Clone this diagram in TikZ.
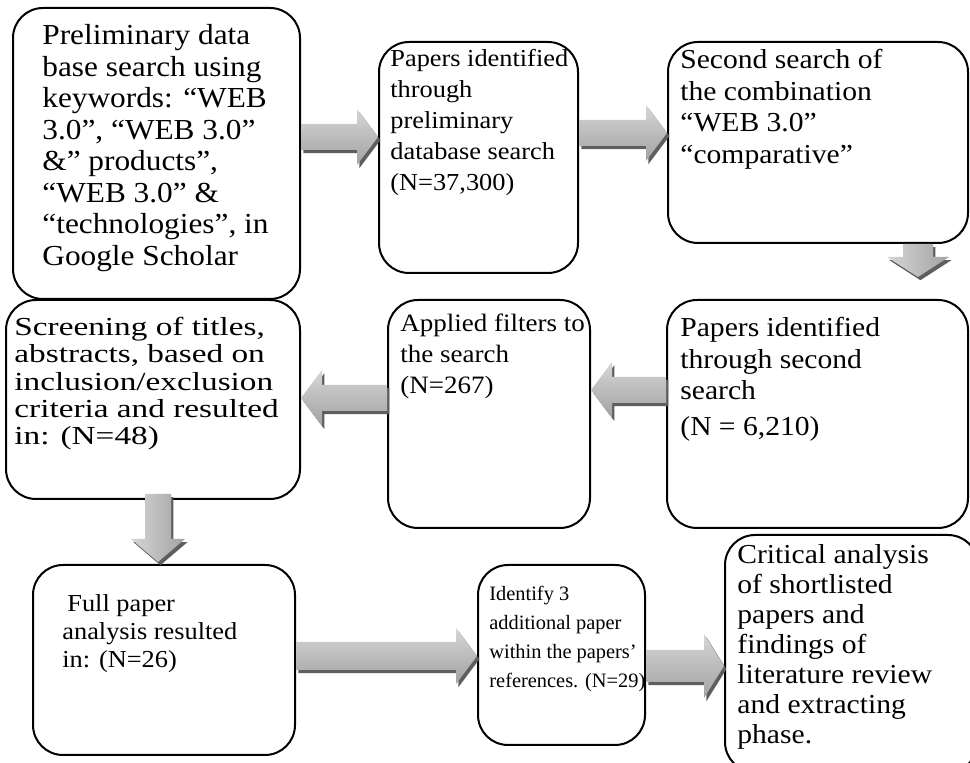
\documentclass[tikz,border=0pt]{standalone}
\usepackage{fontspec}
\setmainfont[FakeStretch=1.08]{Liberation Serif}
\newfontfamily\wideserif[FakeStretch=1.28]{Liberation Serif}
\newfontfamily\plainserif{Liberation Serif}
\usetikzlibrary{positioning}
\usetikzlibrary{calc}
\usetikzlibrary{fit}

\definecolor{arrlight}{HTML}{D6D6D6}
\definecolor{arrdark}{HTML}{A2A2A2}
\definecolor{arrshade}{HTML}{5E5E5E}

% block arrow: #1 shading, #2 tail, #3 tip, #4 half shaft, #5 half head, #6 head length
\newcommand{\blockarrow}[6]{%
  \coordinate (hb) at ($(#3)!#6!(#2)$);
  \fill[arrshade, transform canvas={shift={(1.2pt,-1.6pt)}}]
    ($(#2)!#4!90:(#3)$) -- ($(hb)!#4!90:(#3)$) -- ($(hb)!#5!90:(#3)$) -- (#3)
    -- ($(hb)!#5!-90:(#3)$) -- ($(hb)!#4!-90:(#3)$) -- ($(#2)!#4!-90:(#3)$) -- cycle;
  \path[#1]
    ($(#2)!#4!90:(#3)$) -- ($(hb)!#4!90:(#3)$) -- ($(hb)!#5!90:(#3)$) -- (#3)
    -- ($(hb)!#5!-90:(#3)$) -- ($(hb)!#4!-90:(#3)$) -- ($(#2)!#4!-90:(#3)$) -- cycle;
}

\begin{document}
\begin{tikzpicture}[x=0.5pt, y=-0.5pt,
    box/.style={draw, line width=1pt, rounded corners=15pt, inner sep=0pt},
    txt/.style={inner sep=0pt, align=left},
    txtbig/.style={txt, font=\fontsize{13.7pt}{15.75pt}\selectfont},
    txtsmall/.style={txt, font=\fontsize{12.2pt}{14pt}\selectfont},
    hshade/.style={top color=arrlight, bottom color=arrdark},
    vshade/.style={left color=arrlight, right color=arrdark}]
    \useasboundingbox (0,0) rectangle (970,763);

    % boxes
    \node [box, fit={(13,8) (300,299)}] (b1) {};
    \node [box, fit={(379,42) (578,273)}] (b2) {};
    \node [box, fit={(668,42) (968,243)}] (b3) {};
    \node [box, fit={(667,300) (968,528)}] (b4) {};
    \node [box, fit={(388,300) (590,528)}] (b5) {};
    \node [box, fit={(6,300) (300,499)}] (b6) {};
    \node [box, fit={(33,565) (295,755)}] (b7) {};
    \node [box, fit={(478,565) (645,745)}] (b8) {};
    \node [box, fit={(725,535) (978,772)}] (b9) {};

    % texts
    \node [txt, font=\fontsize{14.5pt}{15.75pt}\selectfont, below right=8.5pt and 15pt of b1.north west] (t1)
        {Preliminary data\\ base search using\\ keywords: “WEB\\ 3.0”, “WEB 3.0”\\ \&” products”,\\
        “WEB 3.0” \&\\ “technologies”, in\\ Google Scholar};
    \node [txt, font=\fontsize{12.2pt}{15.5pt}\selectfont, below right=4pt and 6pt of b2.north west] (t2)
        {Papers identified\\ through\\ preliminary\\ database search\\ (N=37,300)};
    \node [txtbig, below right=4pt and 6.5pt of b3.north west] (t3) {Second search of\\
        the combination\\ “WEB 3.0”\\ “comparative”};
    \node [txtbig, below right=9pt and 7pt of b4.north west] (t4) {Papers identified\\
        through second\\ search\\[2pt] (N = 6,210)};
    \node [txt, font=\fontsize{12.5pt}{15.5pt}\selectfont, below right=7.5pt and 6.5pt of b5.north west] (t5)
        {Applied filters to\\ the search\\ (N=267)};
    \node [txt, font=\wideserif\fontsize{13pt}{13.6pt}\selectfont, below right=9pt and 4.5pt of b6.north west] (t6)
        {Screening of titles,\\ abstracts, based on\\ inclusion/exclusion\\ criteria and resulted\\ in: (N=48)};
    \node [txtsmall, below right=15pt and 15pt of b7.north west] (t7) {\hspace{2.5pt}Full paper\\
        analysis resulted\\ in: (N=26)};
    \node [txt, font=\plainserif\fontsize{10.2pt}{14.4pt}\selectfont, below right=11pt and 6pt of b8.north west] (t8)
        {Identify 3\\ additional paper\\ within the papers’\\ references. (N=29)};
    \node [txt, font=\fontsize{13.7pt}{15pt}\selectfont, below right=5pt and 6.5pt of b9.north west] (t9)
        {Critical analysis\\ of shortlisted\\ papers and\\ findings of\\ literature review\\ and extracting\\ phase.};

    % arrow ends
    \coordinate (a1s) at (b1.east |- 0,137);
    \coordinate (a1e) at (b2.west |- 0,137);
    \coordinate (a2s) at (b2.east |- 0,133);
    \coordinate (a2e) at (b3.west |- 0,133);
    \coordinate (a3s) at (b3.south -| 918,0);
    \coordinate (a3e) at ($(b4.north -| 918,0)+(0,-22)$);
    \coordinate (a4s) at (b4.west |- 0,390);
    \coordinate (a4e) at (b5.east |- 0,390);
    \coordinate (a5s) at (b5.west |- 0,398);
    \coordinate (a5e) at (b6.east |- 0,398);
    \coordinate (a6s) at ($(b6.south -| 158,0)+(0,-6)$);
    \coordinate (a6e) at ($(b7.north -| 158,0)+(0,-2)$);
    \coordinate (a7s) at (b7.east |- 0,656);
    \coordinate (a7e) at (b8.west |- 0,656);
    \coordinate (a8s) at (b8.east |- 0,666);
    \coordinate (a8e) at (b9.west |- 0,666);

    \blockarrow{hshade}{a1s}{a1e}{6.5pt}{14pt}{10.5pt}
    \blockarrow{hshade}{a2s}{a2e}{6.5pt}{14pt}{10.5pt}
    \blockarrow{vshade}{a3s}{a3e}{7.5pt}{15.5pt}{10pt}
    \blockarrow{hshade}{a4s}{a4e}{6.5pt}{14pt}{10.5pt}
    \blockarrow{hshade}{a5s}{a5e}{6.5pt}{14pt}{10.5pt}
    \blockarrow{vshade}{a6s}{a6e}{6.5pt}{13.5pt}{11.5pt}
    \blockarrow{hshade}{a7s}{a7e}{7pt}{14pt}{10.5pt}
    \blockarrow{hshade}{a8s}{a8e}{8pt}{16pt}{10pt}
\end{tikzpicture}
\end{document}
